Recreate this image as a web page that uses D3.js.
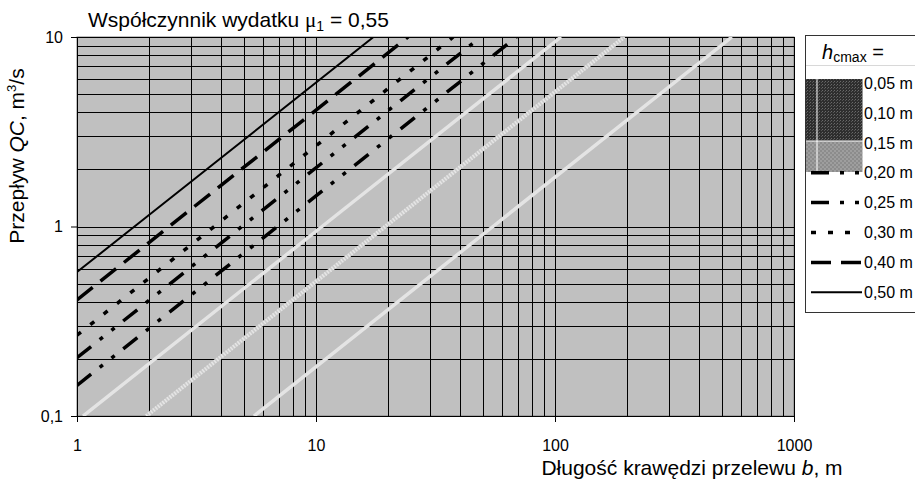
<!DOCTYPE html>
<html>
<head>
<meta charset="utf-8">
<script src="https://cdn.jsdelivr.net/npm/d3@7"></script>
<style>
  body { margin: 0; background: #fff; }
  svg { font-family: "Liberation Sans", Arial, sans-serif; }
</style>
</head>
<body>
<script>
/*** DATA ***/
/* punkty [b, Q] odczytane z wykresu dla kolejnych h_cmax */
let labels = ["0,05 m", "0,10 m", "0,15 m", "0,20 m", "0,25 m", "0,30 m", "0,40 m", "0,50 m"];
let q005 = [[5.5, 0.1], [55, 1], [550, 10]];
let q010 = [[1.95, 0.1], [19.5, 1], [195, 10]];
let q015 = [[1.06, 0.1], [10.6, 1], [106, 10]];
let q020 = [[1, 0.145], [6.9, 1], [69, 10]];
let q025 = [[1, 0.203], [4.9, 1], [49, 10]];
let q030 = [[1, 0.267], [3.75, 1], [37.5, 10]];
let q040 = [[1, 0.41], [2.43, 1], [24.3, 10]];
let q050 = [[1, 0.575], [1.74, 1], [17.4, 10]];
let xTicks = [1, 10, 100, 1000];
let yTicks = [0.1, 1, 10];
let yTickLabels = ["0,1", "1", "10"];

/*** GRAPH ***/
let margin = { top: 37, left: 77 },
  width = 717,
  height = 379;

let x = d3.scaleLog().domain([1, 1000]).range([0, width]);
let y = d3.scaleLog().domain([0.1, 10]).range([height, 0]);

/* style linii */
let styles = [
  { color: "#e4e4e4", w: 3.5, dash: null },
  { color: "#cbcbcb", w: 4, dash: null, texture: true },
  { color: "#e4e4e4", w: 3.5, dash: null },
  { color: "#000", w: 3.5, dash: "18,11,4,11,4,11" },
  { color: "#000", w: 3.5, dash: "18,11,4,11,4,11" },
  { color: "#000", w: 3.5, dash: "5,12" },
  { color: "#000", w: 3.5, dash: "20,10" },
  { color: "#000", w: 2, dash: null }
];
let series = [q005, q010, q015, q020, q025, q030, q040, q050];

let svg = d3.select("body").append("svg")
  .attr("width", 915)
  .attr("height", 484);

let defs = svg.append("defs");
defs.append("clipPath").attr("id", "clip")
  .append("rect").attr("width", width).attr("height", height);

/* wzory do legendy */
let p1 = defs.append("pattern").attr("id", "dark").attr("width", 3).attr("height", 3)
  .attr("patternUnits", "userSpaceOnUse");
p1.append("rect").attr("width", 3).attr("height", 3).attr("fill", "#2e2e2e");
p1.append("rect").attr("width", 1).attr("height", 1).attr("fill", "#6a6a6a");
p1.append("rect").attr("x", 2).attr("y", 1).attr("width", 1).attr("height", 1).attr("fill", "#555");
let p2 = defs.append("pattern").attr("id", "mid").attr("width", 4).attr("height", 4)
  .attr("patternUnits", "userSpaceOnUse");
p2.append("rect").attr("width", 4).attr("height", 4).attr("fill", "#8c8c8c");
p2.append("rect").attr("width", 2).attr("height", 2).attr("fill", "#9e9e9e");
p2.append("rect").attr("x", 2).attr("y", 2).attr("width", 2).attr("height", 2).attr("fill", "#9e9e9e");

let g = svg.append("g")
  .attr("transform", "translate(" + margin.left + "," + margin.top + ")");

/* tło */
g.append("rect")
  .attr("width", width)
  .attr("height", height)
  .attr("fill", "#c0c0c0")
  .attr("stroke", "#808080");

/* siatka */
g.append("g").selectAll("line")
  .data(x.ticks())
  .enter().append("line")
  .attr("x1", (d) => Math.round(x(d)) + 0.5)
  .attr("x2", (d) => Math.round(x(d)) + 0.5)
  .attr("y1", 0)
  .attr("y2", height)
  .attr("stroke", "#000")
  .attr("stroke-width", 1);

g.append("g").selectAll("line")
  .data(y.ticks())
  .enter().append("line")
  .attr("y1", (d) => Math.round(y(d)) + 0.5)
  .attr("y2", (d) => Math.round(y(d)) + 0.5)
  .attr("x1", 0)
  .attr("x2", width)
  .attr("stroke", "#000")
  .attr("stroke-width", 1);

/* linie */
let line = d3.line()
  .x((d) => x(d[0]))
  .y((d) => y(d[1]));

let plot = g.append("g").attr("clip-path", "url(#clip)");
series.forEach((s, i) => {
  let st = styles[i];
  plot.append("path")
    .datum(s)
    .attr("d", line)
    .attr("fill", "none")
    .attr("stroke", st.color)
    .attr("stroke-width", st.w)
    .attr("stroke-dasharray", st.dash);
  if (st.texture) {
    plot.append("path")
      .datum(s)
      .attr("d", line)
      .attr("fill", "none")
      .attr("stroke", "#e6e6e6")
      .attr("stroke-width", 4)
      .attr("stroke-dasharray", "1.5,1.5");
  }
});

/* osie */
let xAxis = d3.axisBottom(x)
  .tickValues(xTicks)
  .tickFormat(d3.format("d"))
  .tickSizeOuter(0)
  .tickSize(6)
  .tickPadding(18);
let yAxis = d3.axisLeft(y)
  .tickValues(yTicks)
  .tickFormat((d, i) => yTickLabels[i])
  .tickSizeOuter(0)
  .tickSize(6)
  .tickPadding(8);

g.append("g")
  .attr("transform", "translate(0," + height + ")")
  .call(xAxis)
  .call((a) => a.selectAll("text").style("font-size", "16px").attr("fill", "#000"))
  .call((a) => a.selectAll("line,path").attr("stroke", "#000"));

g.append("g")
  .call(yAxis)
  .call((a) => a.selectAll("text").style("font-size", "16px").attr("fill", "#000"))
  .call((a) => a.selectAll("line,path").attr("stroke", "#000"));

/* tytuł */
let title = svg.append("text")
  .attr("x", 88)
  .attr("y", 27)
  .style("font-size", "21px");
title.append("tspan").text("Współczynnik wydatku ");
title.append("tspan").style("font-family", "'Liberation Serif', serif").text("μ");
title.append("tspan").attr("dy", 4).style("font-size", "14px").text("1");
title.append("tspan").attr("dy", -4).text(" = 0,55");

/* opis osi x */
let xl = svg.append("text")
  .attr("x", 692)
  .attr("y", 475)
  .attr("text-anchor", "middle")
  .style("font-size", "21px");
xl.append("tspan").text("Długość krawędzi przelewu ");
xl.append("tspan").style("font-style", "italic").text("b");
xl.append("tspan").text(", m");

/* opis osi y */
let yl = svg.append("text")
  .attr("transform", "translate(24,156) rotate(-90)")
  .attr("text-anchor", "middle")
  .style("font-size", "21px");
yl.append("tspan").text("Przepływ ");
yl.append("tspan").style("font-style", "italic").text("QC");
yl.append("tspan").text(", m");
yl.append("tspan").attr("dy", -8).style("font-size", "13px").text("3");
yl.append("tspan").attr("dy", 8).text("/s");

/* legenda */
let lg = svg.append("g");
lg.append("rect")
  .attr("x", 805.5).attr("y", 35.5)
  .attr("width", 130).attr("height", 277)
  .attr("fill", "#fff").attr("stroke", "#333");
lg.append("line")
  .attr("x1", 806).attr("x2", 915).attr("y1", 65.5).attr("y2", 65.5)
  .attr("stroke", "#d8d8d8");
let hd = lg.append("text")
  .attr("x", 853).attr("y", 59)
  .attr("text-anchor", "middle")
  .style("font-size", "20px");
hd.append("tspan").style("font-style", "italic").text("h");
hd.append("tspan").attr("dy", 3).style("font-size", "14px").text("cmax");
hd.append("tspan").attr("dy", -3).text(" =");

/* próbki 0,05 / 0,10 / 0,15 */
lg.append("rect").attr("x", 806).attr("y", 79).attr("width", 57).attr("height", 62).attr("fill", "url(#dark)");
lg.append("rect").attr("x", 806).attr("y", 141).attr("width", 57).attr("height", 31).attr("fill", "url(#mid)");
lg.append("line").attr("x1", 817).attr("x2", 817).attr("y1", 79).attr("y2", 172).attr("stroke", "#fff");
lg.append("line").attr("x1", 863).attr("x2", 863).attr("y1", 79).attr("y2", 172).attr("stroke", "#fff");
lg.append("line").attr("x1", 806).attr("x2", 863).attr("y1", 141).attr("y2", 141).attr("stroke", "#fff");

let ly = (i) => 83 + i * 29.9;
labels.forEach((l, i) => {
  if (i >= 3) {
    let st = styles[i];
    lg.append("line")
      .attr("x1", 811).attr("x2", 862)
      .attr("y1", ly(i)).attr("y2", ly(i))
      .attr("stroke", st.color)
      .attr("stroke-width", st.w)
      .attr("stroke-dasharray", st.dash);
  }
  lg.append("text")
    .attr("x", 864)
    .attr("y", ly(i))
    .attr("dy", "0.36em")
    .style("font-size", "16px")
    .text(l);
});
</script>
</body>
</html>
